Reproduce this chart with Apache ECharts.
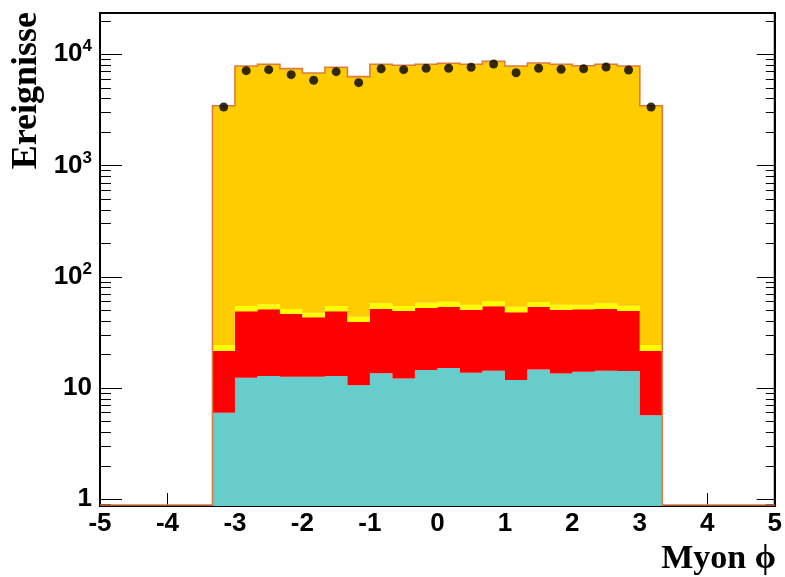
<!DOCTYPE html>
<html>
<head>
<meta charset="utf-8">
<script src="https://cdn.jsdelivr.net/npm/echarts@6/dist/echarts.min.js"></script>
<style>
  html, body { margin: 0; padding: 0; background: #fff; }
  #chart { width: 785px; height: 577px; }
</style>
</head>
<body>
<div id="chart"></div>
<script>
// Histogram binning in muon phi: 30 bins of width 1/3 between -5 and 5
const phiLow = -5;
const phiHigh = 5;
const nBins = 30;

// Per-bin contents of the stacked MC components, bottom to top
const cyanCounts = [0, 0, 0, 0, 0,
  6.0, 12.4, 12.8, 12.6, 12.6, 12.8, 10.6, 13.6, 12.2, 14.5,
  15.1, 13.7, 14.3, 11.8, 14.7, 13.5, 14.0, 14.3, 14.2, 5.7,
  0, 0, 0, 0, 0];
const redCounts = [0, 0, 0, 0, 0,
  15.5, 36.6, 38.2, 34.0, 30.7, 36.2, 28.7, 37.8, 37.1, 37.9,
  38.4, 36.9, 40.0, 36.2, 39.2, 37.1, 37.0, 37.1, 35.1, 15.8,
  0, 0, 0, 0, 0];
const yellowCounts = [0, 0, 0, 0, 0,
  2.9, 5.7, 5.6, 4.8, 4.3, 5.7, 4.5, 6.4, 5.4, 6.1,
  6.2, 5.5, 6.3, 5.9, 5.5, 5.5, 5.1, 6.4, 5.7, 2.9,
  0, 0, 0, 0, 0];
const orangeCounts = [0, 0, 0, 0, 0,
  3427, 7794, 8073, 7373, 6742, 7587, 6247, 8072, 7908, 8072,
  8239, 8074, 8589, 7795, 8291, 8074, 7842, 8072, 7794, 3427,
  0, 0, 0, 0, 0];

// Measured event counts per bin
const dataCounts = [0, 0, 0, 0, 0,
  3360, 7120, 7270, 6560, 5840, 6980, 5560, 7420, 7270, 7490,
  7490, 7640, 8180, 6830, 7490, 7330, 7420, 7690, 7230, 3360,
  0, 0, 0, 0, 0];

// Axis tick labels
const xTicks = [-5, -4, -3, -2, -1, 0, 1, 2, 3, 4, 5];
const yMajorTicks = [1, 10, 100, 1000, 10000];
const yMinorTicks = [0.9, 2, 3, 4, 5, 6, 7, 8, 9, 20, 30, 40, 50, 60, 70, 80, 90,
  200, 300, 400, 500, 600, 700, 800, 900,
  2000, 3000, 4000, 5000, 6000, 7000, 8000, 9000, 20000];

const yMin = 0.87;
const yMax = 23500;

const binWidth = (phiHigh - phiLow) / nBins;
const binLo = i => phiLow + i * binWidth;

const layers = [
  { name: 'cyan', counts: cyanCounts, color: '#66cccc' },
  { name: 'red', counts: redCounts, color: '#ff0000' },
  { name: 'yellow', counts: yellowCounts, color: '#ffff00' },
  { name: 'orange', counts: orangeCounts, color: '#ffcc00' }
];

// cumulative sums of the stack
const cumulative = [];
let running = new Array(nBins).fill(0);
layers.forEach(layer => {
  const base = running.slice();
  running = running.map((v, i) => v + layer.counts[i]);
  cumulative.push({ base: base, top: running.slice() });
});
const totalCounts = running;

const labelFont = {
  fontFamily: 'Liberation Sans, Arial, sans-serif',
  fontWeight: 'bold',
  fontSize: 26,
  color: '#000'
};

// one custom series per stacked component; each layer is a single stepped polygon
const stackSeries = layers.map((layer, k) => {
  const used = [];
  for (let i = 0; i < nBins; i++) if (layer.counts[i] > 0) used.push(i);
  return {
    type: 'custom',
    name: layer.name,
    xAxisIndex: 0,
    yAxisIndex: 0,
    clip: true,
    silent: true,
    z: 2 + k,
    data: [[0]],
    renderItem: function (params, api) {
      const bottom = params.coordSys.y + params.coordSys.height;
      const yOf = v => (v > 0 ? api.coord([0, v])[1] : bottom);
      const topPts = [];
      const basePts = [];
      used.forEach(i => {
        const xl = api.coord([binLo(i), 1])[0];
        const xh = api.coord([binLo(i + 1), 1])[0];
        const yt = yOf(cumulative[k].top[i]);
        const yb = yOf(cumulative[k].base[i]);
        topPts.push([xl, yt], [xh, yt]);
        basePts.push([xl, yb], [xh, yb]);
      });
      const pts = topPts.concat(basePts.reverse());
      return {
        type: 'polygon',
        shape: { points: pts },
        style: { fill: layer.color }
      };
    }
  };
});

// outline of the summed histogram (empty bins sit on the lower frame edge)
const outlineSeries = {
  type: 'custom',
  name: 'outline',
  xAxisIndex: 0,
  yAxisIndex: 0,
  clip: true,
  silent: true,
  z: 8,
  data: [[0]],
  renderItem: function (params, api) {
    const bottom = params.coordSys.y + params.coordSys.height - 1;
    const pts = [];
    for (let i = 0; i < nBins; i++) {
      const xl = api.coord([binLo(i), 1])[0];
      const xh = api.coord([binLo(i + 1), 1])[0];
      const y = totalCounts[i] > 0 ? api.coord([0, totalCounts[i]])[1] : bottom;
      pts.push([xl, y], [xh, y]);
    }
    return {
      type: 'polyline',
      shape: { points: pts },
      style: { stroke: '#dc7b40', lineWidth: 1.6, fill: null }
    };
  }
};

const dataSeries = {
  type: 'scatter',
  name: 'data',
  xAxisIndex: 0,
  yAxisIndex: 0,
  symbol: 'circle',
  symbolSize: 9,
  itemStyle: { color: '#000' },
  z: 10,
  silent: true,
  data: dataCounts
    .map((v, i) => [binLo(i) + binWidth / 2, v])
    .filter(d => d[1] > 0)
};

function yLabel(v) {
  const e = Math.round(Math.log10(v));
  if (e <= 1) return '{b|' + Math.round(v) + '}';
  return '{b|10}{s|' + e + '}';
}

const logAxisBase = {
  type: 'log',
  logBase: 10,
  min: yMin,
  max: yMax,
  splitLine: { show: false }
};

const option = {
  animation: false,
  backgroundColor: '#fff',
  grid: {
    left: 100, right: 8, top: 13, bottom: 71,
    show: true, borderColor: '#000', borderWidth: 2, backgroundColor: 'transparent'
  },
  xAxis: [{
    type: 'value',
    min: phiLow,
    max: phiHigh,
    interval: 1,
    position: 'bottom',
    axisLine: { show: true, onZero: false, lineStyle: { color: '#000', width: 2 } },
    axisTick: { show: true, inside: true, length: 13, lineStyle: { color: '#000', width: 1 }, customValues: xTicks },
    axisLabel: Object.assign({ margin: 5, customValues: xTicks }, labelFont),
    splitLine: { show: false }
  }],
  yAxis: [
    Object.assign({}, logAxisBase, {
      position: 'left',
      axisLine: { show: true, onZero: false, lineStyle: { color: '#000', width: 2 } },
      axisTick: { show: true, inside: true, length: 22, lineStyle: { color: '#000', width: 1 }, customValues: yMajorTicks },
      axisLabel: {
        show: true,
        margin: 8,
        customValues: yMajorTicks,
        formatter: yLabel,
        rich: {
          b: Object.assign({ lineHeight: 32, verticalAlign: 'middle' }, labelFont),
          s: Object.assign({}, labelFont, { fontSize: 17, lineHeight: 17, verticalAlign: 'top' })
        }
      }
    }),
    Object.assign({}, logAxisBase, {
      position: 'left',
      axisLine: { show: false, onZero: false },
      axisTick: { show: true, inside: true, length: 11, lineStyle: { color: '#000', width: 1 }, customValues: yMinorTicks },
      axisLabel: { show: false }
    }),
    Object.assign({}, logAxisBase, {
      position: 'right',
      axisLine: { show: true, onZero: false, lineStyle: { color: '#000', width: 2 } },
      axisTick: { show: true, inside: true, length: 18, lineStyle: { color: '#000', width: 1 }, customValues: yMajorTicks },
      axisLabel: { show: false }
    }),
    Object.assign({}, logAxisBase, {
      position: 'right',
      axisLine: { show: false, onZero: false },
      axisTick: { show: true, inside: true, length: 9, lineStyle: { color: '#000', width: 1 }, customValues: yMinorTicks },
      axisLabel: { show: false }
    })
  ],
  graphic: [
    {
      type: 'text',
      x: 27, y: 12,
      rotation: Math.PI / 2,
      style: {
        text: 'Ereignisse',
        font: 'bold 36px "Liberation Serif", "Times New Roman", serif',
        fill: '#000',
        textAlign: 'right',
        textVerticalAlign: 'middle'
      }
    },
    {
      type: 'text',
      x: 776, y: 559,
      style: {
        text: 'Myon ϕ',
        font: 'bold 34px "Liberation Serif", "Times New Roman", serif',
        fill: '#000',
        textAlign: 'right',
        textVerticalAlign: 'middle'
      }
    }
  ],
  series: stackSeries.concat([outlineSeries, dataSeries])
};

const chart = echarts.init(document.getElementById('chart'), null, { renderer: 'canvas' });
chart.setOption(option);
</script>
</body>
</html>
